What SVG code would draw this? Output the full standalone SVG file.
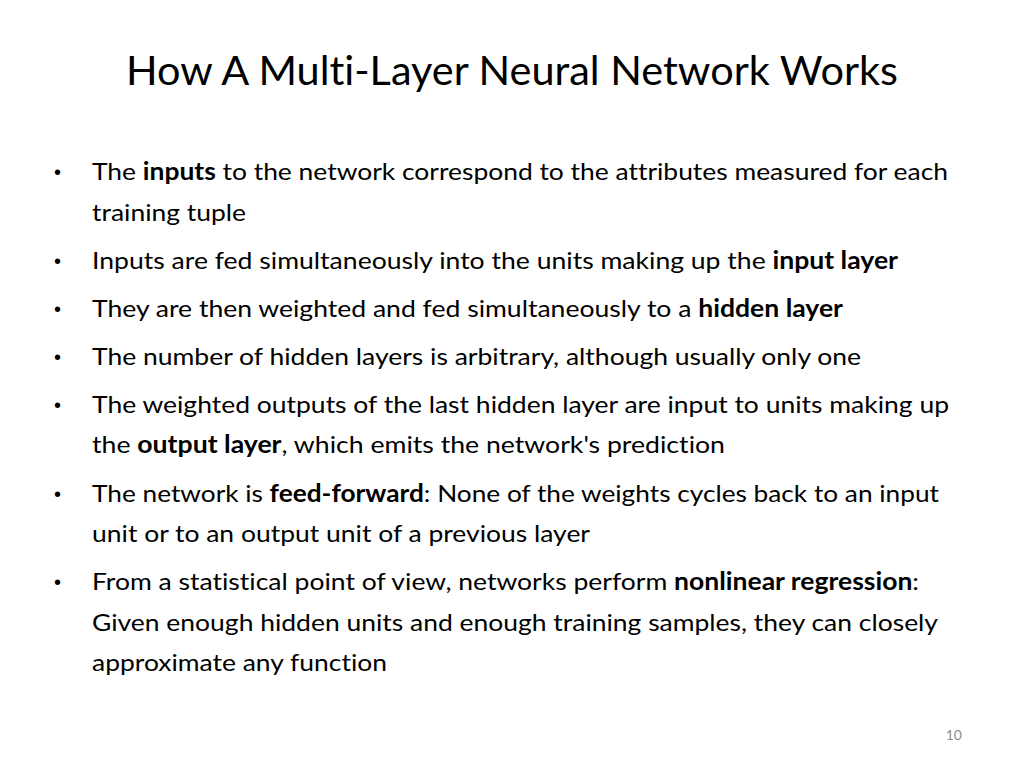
<svg xmlns="http://www.w3.org/2000/svg" width="1024" height="768" viewBox="0 0 1024 768">
<style>
text{font-variant-ligatures:none;font-feature-settings:"liga" 0}
.t{font-family:Lato,"Open Sans","Liberation Sans",sans-serif;font-size:24px;fill:#000}
.b{font-weight:bold}
.bu{font-family:"Liberation Sans",sans-serif;font-size:20px;fill:#000}
.title{font-family:Lato,"Open Sans","Liberation Sans",sans-serif;font-size:40px;fill:#000}
</style>
<rect width="1024" height="768" fill="#fff"/>
<text class="title" x="126" y="85" textLength="772" lengthAdjust="spacingAndGlyphs">How A Multi-Layer Neural Network Works</text>
<g class="bu">
<text x="54" y="179">•</text><text x="54" y="268">•</text><text x="54" y="316">•</text><text x="54" y="364">•</text><text x="54" y="412">•</text><text x="54" y="501">•</text><text x="54" y="589">•</text>
</g>
<g class="t">
<text x="92" y="180" textLength="856" lengthAdjust="spacingAndGlyphs">The <tspan class="b">inputs</tspan> to the network correspond to the attributes measured for each</text>
<text x="92" y="221" textLength="154" lengthAdjust="spacingAndGlyphs">training tuple</text>
<text x="92" y="269" textLength="806" lengthAdjust="spacingAndGlyphs">Inputs are fed simultaneously into the units making up the <tspan class="b">input layer</tspan></text>
<text x="92" y="317" textLength="751" lengthAdjust="spacingAndGlyphs">They are then weighted and fed simultaneously to a <tspan class="b">hidden layer</tspan></text>
<text x="92" y="365" textLength="769" lengthAdjust="spacingAndGlyphs">The number of hidden layers is arbitrary, although usually only one</text>
<text x="92" y="413" textLength="857" lengthAdjust="spacingAndGlyphs">The weighted outputs of the last hidden layer are input to units making up</text>
<text x="92" y="453" textLength="633" lengthAdjust="spacingAndGlyphs">the <tspan class="b">output layer</tspan>, which emits the network's prediction</text>
<text x="92" y="502" textLength="847" lengthAdjust="spacingAndGlyphs">The network is <tspan class="b">feed-forward</tspan>: None of the weights cycles back to an input</text>
<text x="92" y="542" textLength="498" lengthAdjust="spacingAndGlyphs">unit or to an output unit of a previous layer</text>
<text x="92" y="590" textLength="827" lengthAdjust="spacingAndGlyphs">From a statistical point of view, networks perform <tspan class="b">nonlinear regression</tspan>:</text>
<text x="92" y="631" textLength="846" lengthAdjust="spacingAndGlyphs">Given enough hidden units and enough training samples, they can closely</text>
<text x="92" y="671" textLength="295" lengthAdjust="spacingAndGlyphs">approximate any function</text>
</g>
<text x="962" y="740" text-anchor="end" style="font-family:Lato,'Liberation Sans',sans-serif;font-size:14px;fill:#8c8c8c">10</text>
</svg>
